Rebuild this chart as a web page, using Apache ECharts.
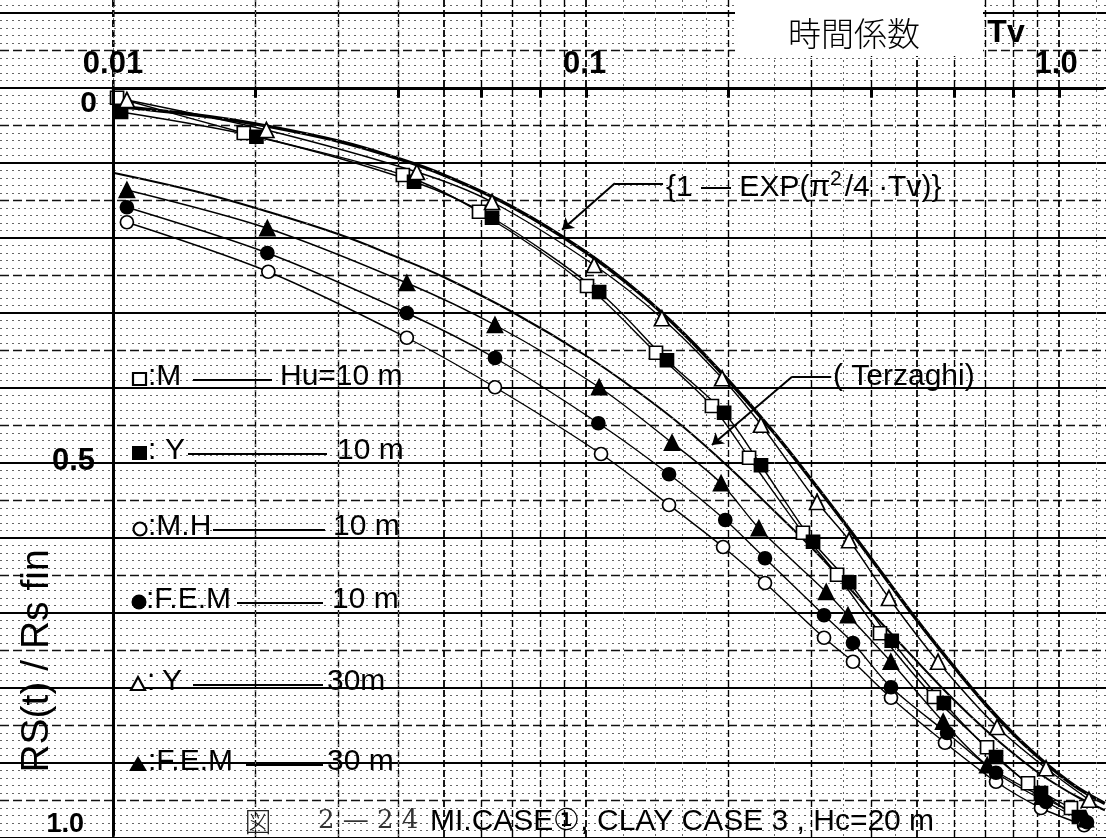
<!DOCTYPE html>
<html>
<head>
<meta charset="utf-8">
<script src="https://cdn.jsdelivr.net/npm/echarts@6/dist/echarts.min.js"></script>
<style>
html,body{margin:0;padding:0;background:#fff;}
#chart{width:1106px;height:838px;}
</style>
</head>
<body>
<div id="chart"></div>
<script>
// Time factor Tv (x) and settlement ratio Rs(t)/Rs fin (y) for each method.
const tvM10   = [0.0102,0.0189,0.0410,0.0594,0.1005,0.1406,0.1846,0.2212,0.2875,0.3395,0.4183,0.544,0.7045,0.860,1.060];
const uM10    = [0.013,0.060,0.116,0.165,0.264,0.353,0.424,0.493,0.593,0.649,0.727,0.812,0.879,0.927,0.960];
const tvY10   = [0.0104,0.0201,0.0433,0.0633,0.1066,0.1483,0.1959,0.2344,0.302,0.360,0.443,0.571,0.736,0.916,1.102];
const uY10    = [0.032,0.065,0.125,0.173,0.272,0.363,0.433,0.503,0.605,0.659,0.737,0.820,0.892,0.940,0.972];
const tvMH10  = [0.0107,0.0213,0.0418,0.0642,0.1076,0.1498,0.1949,0.239,0.3186,0.3668,0.4414,0.574,0.736,0.916,1.13];
const uMH10   = [0.179,0.245,0.333,0.399,0.488,0.556,0.612,0.660,0.733,0.765,0.813,0.873,0.925,0.960,0.983];
const tvFEM10 = [0.0107,0.0212,0.0418,0.0642,0.1062,0.1498,0.197,0.239,0.3186,0.3668,0.4414,0.580,0.736,0.939,1.146];
const uFEM10  = [0.159,0.220,0.300,0.360,0.447,0.515,0.576,0.627,0.703,0.740,0.799,0.860,0.913,0.952,0.979];
const tvY30   = [0.0107,0.0211,0.0439,0.0633,0.104,0.1447,0.194,0.2344,0.308,0.360,0.437,0.555,0.740,0.939,1.157];
const uY30    = [0.016,0.056,0.112,0.152,0.236,0.307,0.387,0.449,0.552,0.603,0.680,0.765,0.852,0.907,0.949];
const tvFEM30 = [0.0107,0.0212,0.0418,0.0642,0.1066,0.152,0.193,0.232,0.322,0.358,0.441,0.569,0.705,0.92,1.14];
const uFEM30  = [0.136,0.187,0.260,0.316,0.399,0.473,0.527,0.587,0.672,0.703,0.765,0.845,0.903,0.945,0.975];

// Theoretical curves
const tvTheory   = [0.01,0.015,0.02,0.03,0.04,0.05,0.07,0.1,0.13,0.16,0.2,0.25,0.3,0.35,0.4,0.5,0.6,0.7,0.8,0.9,1.0,1.1,1.25];
const uExpCurve  = [0.024,0.036,0.048,0.071,0.094,0.116,0.159,0.219,0.274,0.326,0.390,0.460,0.523,0.578,0.627,0.709,0.772,0.822,0.861,0.891,0.915,0.934,0.954];
const uTerzaghi  = [0.113,0.138,0.160,0.195,0.226,0.252,0.299,0.357,0.407,0.451,0.505,0.564,0.613,0.658,0.698,0.764,0.816,0.856,0.887,0.912,0.931,0.946,0.963];

// Axis tick labels and top-axis tick positions
const xLabelValues = [0.01, 0.1, 1];
const xLabelText   = ['0.01', '0.1', '1.0'];
const yLabelText   = {0: '0', 0.5: '0.5', 1: '1.0'};
const topTicks     = [0.02,0.04,0.06,0.08,0.1,0.2,0.4,0.6,0.8,1.0];

// Layout of the semi-log sheet
const W = 1106, H = 838;
const AXIS_X = 113, AXIS_Y = 88, PX_PER_DECADE = 473, PX_PER_UNIT = 750;
const xMinSheet = Math.pow(10, -2 - AXIS_X / PX_PER_DECADE);
const xMaxSheet = Math.pow(10, -2 + (W - AXIS_X) / PX_PER_DECADE);
const yMinSheet = -AXIS_Y / PX_PER_UNIT;

const pairs = (t, u) => t.map((v, i) => [v, u[i]]);

// Graph paper rulings
const paperLines = [];
for (let k = -11; k <= 100; k++) {
  let ls;
  if (k % 10 === 0) ls = {color: '#000', width: 2, type: 'solid'};
  else if (k % 5 === 0) ls = {color: '#111', width: 1.3, type: [9, 4]};
  else ls = {color: '#666', width: 1, type: [2, 4]};
  paperLines.push({yAxis: k / 100, lineStyle: ls});
}
const majorDiv = [1,2,3,4,5,6,7,8,9];
const minorDiv = [1.2,1.4,1.6,1.8,2.5,3.5,4.5];
for (let e = -3; e <= 0; e++) {
  const b = Math.pow(10, e);
  majorDiv.forEach(m => {
    const v = m * b;
    if (v > xMinSheet && v < xMaxSheet)
      paperLines.push({xAxis: v, lineStyle: {color: '#000', width: (m === 1 || m === 5) ? 1.8 : 1.4, type: [7, 3]}});
  });
  minorDiv.forEach(m => {
    const v = m * b;
    if (v > xMinSheet && v < xMaxSheet)
      paperLines.push({xAxis: v, lineStyle: {color: '#666', width: 1, type: [2, 4]}});
  });
}

const tickSegs = topTicks.map(v => [{coord: [v, 0]}, {coord: [v, 0.013]}]);

// Leader arrows of the two curve notes (data coordinates)
const arrowSegs = [
  [{coord: [0.1455, 0.127], symbol: 'none'}, {coord: [0.1151, 0.127], symbol: 'none'}],
  [{coord: [0.1151, 0.127], symbol: 'none'}, {coord: [0.0890, 0.189], symbol: 'arrow', symbolSize: 11}],
  [{coord: [0.330, 0.385], symbol: 'none'}, {coord: [0.2727, 0.385], symbol: 'none'}],
  [{coord: [0.2727, 0.385], symbol: 'none'}, {coord: [0.1846, 0.476], symbol: 'arrow', symbolSize: 11}]
];

function dataSeries(name, tv, u, symbol, filled, size) {
  return {
    name, type: 'line', xAxisIndex: 0, yAxisIndex: 0,
    data: pairs(tv, u), smooth: 0.3,
    symbol, symbolSize: size, showSymbol: true, showAllSymbol: true,
    lineStyle: {color: '#000', width: 1.4},
    itemStyle: {color: filled ? '#000' : '#fff', borderColor: '#000', borderWidth: 1.7},
    z: 5, silent: true, animation: false
  };
}

const FONT = '"Liberation Sans", Arial, sans-serif';

// Legend rows drawn on the sheet
const legendRows = [
  {y: 377, sym: 'rectO', sx: 140, texts: [[148, ':M']], line: [193, 272], tail: [280, 'Hu=10 m']},
  {y: 451, sym: 'rectF', sx: 140, texts: [[148, ':'], [165, 'Y']], line: [188, 327], tail: [337, '10 m']},
  {y: 527, sym: 'circO', sx: 140, texts: [[148, ':M.H']], line: [213, 325], tail: [333, '10 m']},
  {y: 600, sym: 'circF', sx: 139, texts: [[146, ':F.E.M']], line: [237, 323], tail: [332, '10 m']},
  {y: 682, sym: 'triO', sx: 138, texts: [[147, ':'], [162, 'Y']], line: [193, 323], tail: [327, '30m']},
  {y: 762, sym: 'triF', sx: 138, texts: [[148, ':F.E.M']], line: [246, 323], tail: [327, '30 m']}
];

function legendSymbol(kind, cx, cy) {
  const stroke = {stroke: '#000', lineWidth: 2.2};
  switch (kind) {
    case 'rectO': return {type: 'rect', shape: {x: cx - 7, y: cy - 6, width: 13, height: 12}, style: Object.assign({fill: '#fff'}, stroke), z: 52};
    case 'rectF': return {type: 'rect', shape: {x: cx - 8, y: cy - 7, width: 15, height: 14}, style: {fill: '#000'}, z: 52};
    case 'circO': return {type: 'circle', shape: {cx, cy, r: 6.5}, style: Object.assign({fill: '#fff'}, stroke), z: 52};
    case 'circF': return {type: 'circle', shape: {cx, cy, r: 7.5}, style: {fill: '#000'}, z: 52};
    case 'triO': return {type: 'polygon', shape: {points: [[cx, cy - 7], [cx + 7, cy + 6], [cx - 7, cy + 6]]}, style: Object.assign({fill: '#fff'}, stroke), z: 52};
    default: return {type: 'polygon', shape: {points: [[cx, cy - 8], [cx + 9, cy + 7], [cx - 9, cy + 7]]}, style: {fill: '#000'}, z: 52};
  }
}

const graphics = [];
legendRows.forEach(r => {
  graphics.push(legendSymbol(r.sym, r.sx, r.y + 2));
  r.texts.forEach(([x, t]) => graphics.push({type: 'text', x, y: r.y, z: 52,
    style: {text: t, fontSize: 30, fontFamily: FONT, fill: '#000', align: 'left', verticalAlign: 'middle'}}));
  graphics.push({type: 'line', z: 52, shape: {x1: r.line[0], y1: r.y + 3, x2: r.line[1], y2: r.y + 3}, style: {stroke: '#000', lineWidth: 2}});
  graphics.push({type: 'text', x: r.tail[0], y: r.y, z: 52,
    style: {text: r.tail[1], fontSize: 30, fontFamily: FONT, fill: '#000', align: 'left', verticalAlign: 'middle'}});
});

// Header patch with the x-axis title
graphics.push({type: 'rect', z: 50, shape: {x: 735, y: 0, width: 248, height: 56}, style: {fill: '#fff'}});
graphics.push({type: 'text', x: 854, y: 33, z: 51, style: {text: '時間係数', fontSize: 33, fontFamily: '"Noto Sans CJK JP", sans-serif', fontWeight: 300, fill: '#000', align: 'center', verticalAlign: 'middle'}});
graphics.push({type: 'text', x: 1006, y: 33, z: 51, style: {text: 'Tv', fontSize: 32, fontFamily: FONT, fontWeight: 'bold', fill: '#000', align: 'center', verticalAlign: 'middle'}});

// Y-axis title
graphics.push({type: 'text', x: 37, y: 661, rotation: Math.PI / 2, z: 51,
  style: {text: 'RS(t) / Rs fin', fontSize: 39, fontFamily: FONT, fill: '#000', align: 'center', verticalAlign: 'middle'}});

// Curve notes
graphics.push({type: 'text', x: 666, y: 188, z: 51, style: {
  text: '{1 — EXP(π{s|2}/4 ·Tv)}', fontSize: 30, fontFamily: FONT, fill: '#000', align: 'left', verticalAlign: 'middle',
  rich: {s: {fontSize: 21, fontFamily: FONT, padding: [0, 3, 18, 0]}}}});
graphics.push({type: 'text', x: 833, y: 377, z: 51, style: {text: '( Terzaghi)', fontSize: 30, fontFamily: FONT, fill: '#000', align: 'left', verticalAlign: 'middle'}});

// Figure caption
graphics.push({type: 'text', x: 258, y: 822, z: 51, style: {text: '図', fontSize: 27, fontFamily: '"Noto Sans CJK JP", sans-serif', fontWeight: 300, fill: '#222', align: 'center', verticalAlign: 'middle'}});
graphics.push({type: 'text', x: 318, y: 821, z: 51, style: {text: '2 — 2 4', fontSize: 26, fontFamily: '"DejaVu Serif", "Liberation Serif", serif', fill: '#333', align: 'left', verticalAlign: 'middle'}});
graphics.push({type: 'text', x: 430, y: 822, z: 51, style: {text: 'MI.CASE①, CLAY CASE 3 , Hc=20 m', fontSize: 30, fontFamily: FONT, fill: '#000', align: 'left', verticalAlign: 'middle'}});

const chart = echarts.init(document.getElementById('chart'), null, {renderer: 'canvas', width: W, height: H});

chart.setOption({
  backgroundColor: '#fff',
  animation: false,
  grid: [
    {left: 0, top: 0, right: 0, bottom: 0, containLabel: false},
    {left: AXIS_X, top: AXIS_Y, right: 0, bottom: 0, containLabel: false}
  ],
  xAxis: [
    {gridIndex: 0, type: 'log', logBase: 10, min: xMinSheet, max: xMaxSheet, show: false},
    {gridIndex: 1, type: 'log', logBase: 10, min: 0.01, max: xMaxSheet, position: 'top', z: 10,
      axisLine: {show: true, onZero: false, lineStyle: {color: '#000', width: 3}},
      axisTick: {show: false}, splitLine: {show: false}, minorSplitLine: {show: false},
      axisLabel: {show: true, margin: 8, color: '#000', fontSize: 31, fontWeight: 'bold', fontFamily: FONT,
        showMinLabel: true, showMaxLabel: true,
        formatter: v => {
          const i = xLabelValues.findIndex(t => Math.abs(Math.log10(v) - Math.log10(t)) < 1e-6);
          return i >= 0 ? xLabelText[i] : '';
        }}}
  ],
  yAxis: [
    {gridIndex: 0, type: 'value', min: yMinSheet, max: 1, inverse: true, show: false},
    {gridIndex: 1, type: 'value', min: 0, max: 1, interval: 0.5, inverse: true, z: 10,
      axisLine: {show: true, onZero: false, lineStyle: {color: '#000', width: 3}},
      axisTick: {show: false}, splitLine: {show: false},
      axisLabel: {show: true, margin: 16, color: '#000', fontFamily: FONT, fontWeight: 'bold', fontSize: 31,
        showMinLabel: true, showMaxLabel: true,
        formatter: v => {
          const t = yLabelText[Math.round(v * 2) / 2];
          if (v === 0) return '{t|' + t + '}';
          if (Math.abs(v - 1) < 1e-9) return '{b|' + t + '}';
          return '{m|' + t + '}';
        },
        rich: {
          t: {fontSize: 30, fontFamily: FONT, fontWeight: 'bold', padding: [32, 0, 0, 0]},
          m: {fontSize: 31, fontFamily: FONT, fontWeight: 'bold', padding: [0, 2, 0, 0]},
          b: {fontSize: 27, fontFamily: FONT, fontWeight: 'bold', padding: [0, 13, 20, 0]}
        }}}
  ],
  series: [
    {name: 'sheet', type: 'line', xAxisIndex: 0, yAxisIndex: 0, data: [], z: 1, silent: true,
      markLine: {silent: true, symbol: 'none', animation: false, label: {show: false}, data: paperLines}},
    {name: 'ticks', type: 'line', xAxisIndex: 0, yAxisIndex: 0, data: [], z: 6, silent: true,
      markLine: {silent: true, symbol: 'none', animation: false, label: {show: false},
        lineStyle: {color: '#000', width: 3, type: 'solid'}, data: tickSegs}},
    {name: 'notes', type: 'line', xAxisIndex: 0, yAxisIndex: 0, data: [], z: 6, silent: true,
      markLine: {silent: true, animation: false, label: {show: false},
        lineStyle: {color: '#000', width: 2, type: 'solid'}, data: arrowSegs}},
    {name: '1-EXP', type: 'line', xAxisIndex: 0, yAxisIndex: 0, data: pairs(tvTheory, uExpCurve),
      smooth: 0.4, symbol: 'none', lineStyle: {color: '#000', width: 3.4}, z: 4, silent: true},
    {name: 'Terzaghi', type: 'line', xAxisIndex: 0, yAxisIndex: 0, data: pairs(tvTheory, uTerzaghi),
      smooth: 0.4, symbol: 'none', lineStyle: {color: '#000', width: 2}, z: 4, silent: true},
    dataSeries('M 10m', tvM10, uM10, 'rect', false, 13),
    dataSeries('Y 10m', tvY10, uY10, 'rect', true, 13),
    dataSeries('M.H 10m', tvMH10, uMH10, 'circle', false, 13),
    dataSeries('F.E.M 10m', tvFEM10, uFEM10, 'circle', true, 13),
    dataSeries('Y 30m', tvY30, uY30, 'triangle', false, 15),
    dataSeries('F.E.M 30m', tvFEM30, uFEM30, 'triangle', true, 15)
  ],
  graphic: {elements: graphics}
});
</script>
</body>
</html>
